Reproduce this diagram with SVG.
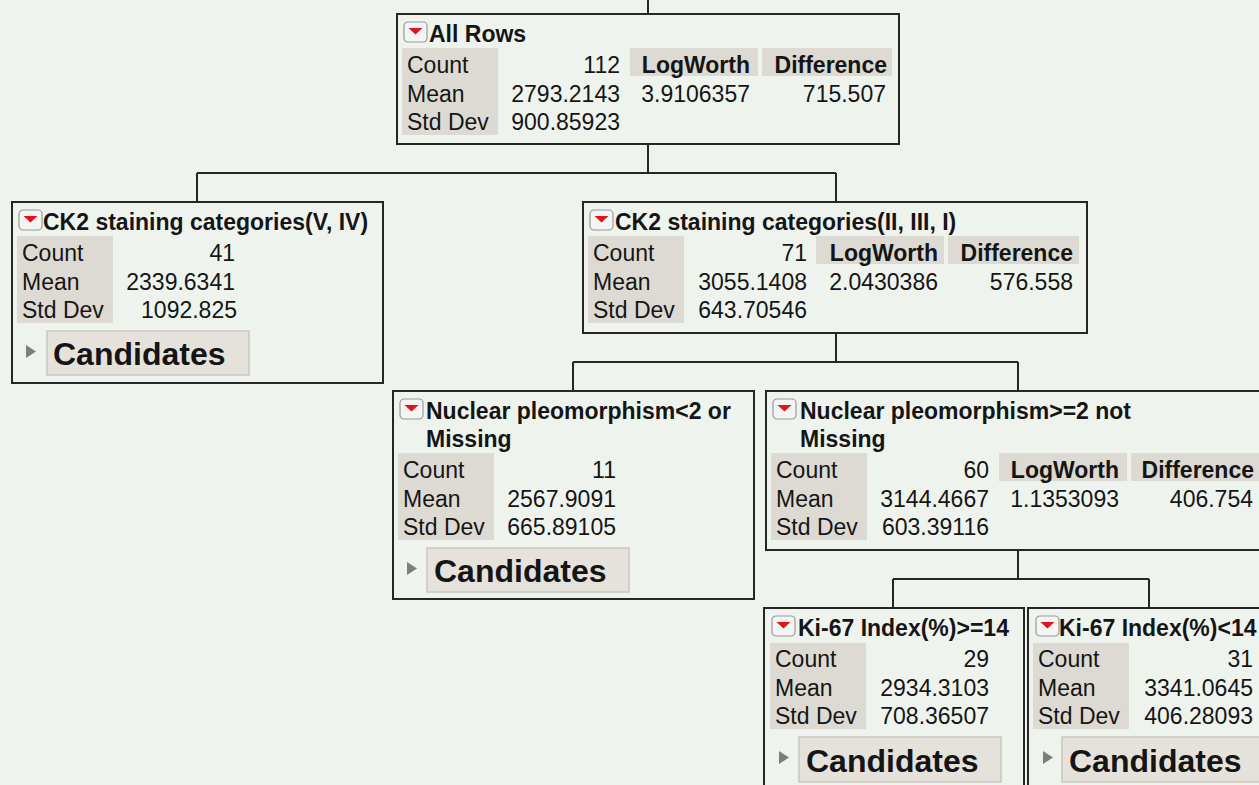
<svg xmlns="http://www.w3.org/2000/svg" xmlns:xlink="http://www.w3.org/1999/xlink" width="1259" height="785" viewBox="0 0 1259 785">
<style>
.box{fill:#eff3ee;stroke:#262626;stroke-width:2}
.lbl{fill:#dddad3}
.t{font-family:"Liberation Sans",Arial,Helvetica,sans-serif;font-size:23px;fill:#151515}
.b{font-weight:bold}
.r{text-anchor:end}
.btn{fill:#e5e2dc;stroke:#cac6bf;stroke-width:1.5}
.cand{font-size:32px;font-weight:bold}
.disc{fill:#7d7d7d}
.conn path{stroke:#262626;stroke-width:2;fill:none}
</style>
<defs>
<g id="menu">
<rect x="0" y="0" width="23" height="20" rx="4" fill="#f4f4f2" stroke="#9a9a9a" stroke-width="1.2"/>
<polygon points="4.5,6 18.5,6 11.5,12.5" fill="#e0141c"/>
</g>
</defs>
<rect x="0" y="0" width="1259" height="785" fill="#eff3ee"/>
<g class="conn" id="connectors">
<path d="M648,0 V14"/>
<path d="M648,144 V173 M197,173 H836 M197,173 V202 M836,173 V202"/>
<path d="M836,333 V362 M573,362 H1018 M573,362 V391 M1018,362 V391"/>
<path d="M1018,550 V579 M893,579 H1149 M893,579 V608 M1149,579 V608"/>
</g>
<g id="node-all-rows" transform="translate(397,14)">
<rect class="box" x="0" y="0" width="502" height="130"/>
<use href="#menu" x="7" y="8"/>
<text class="t b" x="32" y="28">All Rows</text>
<rect class="lbl" x="5" y="34" width="96" height="87"/>
<rect class="lbl" x="233" y="34" width="128" height="28"/>
<rect class="lbl" x="365" y="34" width="130" height="28"/>
<text class="t" x="10" y="59">Count</text>
<text class="t" x="10" y="88">Mean</text>
<text class="t" x="10" y="116">Std Dev</text>
<text class="t r" x="223" y="59">112</text>
<text class="t r" x="223" y="88">2793.2143</text>
<text class="t r" x="223" y="116">900.85923</text>
<text class="t b r" x="353" y="59">LogWorth</text>
<text class="t b r" x="490" y="59">Difference</text>
<text class="t r" x="353" y="88">3.9106357</text>
<text class="t r" x="489" y="88">715.507</text>
</g>
<g id="node-ck2-v-iv" transform="translate(12,202)">
<rect class="box" x="0" y="0" width="371" height="181"/>
<use href="#menu" x="7" y="8"/>
<text class="t b" x="31" y="28">CK2 staining categories(V, IV)</text>
<rect class="lbl" x="5" y="34" width="96" height="87"/>
<text class="t" x="10" y="59">Count</text>
<text class="t" x="10" y="88">Mean</text>
<text class="t" x="10" y="116">Std Dev</text>
<text class="t r" x="223" y="59">41</text>
<text class="t r" x="223" y="88">2339.6341</text>
<text class="t r" x="225" y="116">1092.825</text>
<polygon class="disc" points="14,143 14,156 24,149.5"/>
<rect class="btn" x="35" y="129" width="202" height="44"/>
<text class="t cand" x="41" y="163">Candidates</text>
</g>
<g id="node-ck2-ii-iii-i" transform="translate(583,202)">
<rect class="box" x="0" y="0" width="504" height="131"/>
<use href="#menu" x="7" y="8"/>
<text class="t b" x="32" y="28">CK2 staining categories(II, III, I)</text>
<rect class="lbl" x="5" y="34" width="96" height="87"/>
<rect class="lbl" x="233" y="34" width="128" height="28"/>
<rect class="lbl" x="365" y="34" width="131" height="28"/>
<text class="t" x="10" y="59">Count</text>
<text class="t" x="10" y="88">Mean</text>
<text class="t" x="10" y="116">Std Dev</text>
<text class="t r" x="224" y="59">71</text>
<text class="t r" x="224" y="88">3055.1408</text>
<text class="t r" x="224" y="116">643.70546</text>
<text class="t b r" x="355" y="59">LogWorth</text>
<text class="t b r" x="490" y="59">Difference</text>
<text class="t r" x="355" y="88">2.0430386</text>
<text class="t r" x="490" y="88">576.558</text>
</g>
<g id="node-nuclear-lt2" transform="translate(393,391)">
<rect class="box" x="0" y="0" width="361" height="208"/>
<use href="#menu" x="7" y="8"/>
<text class="t b" x="33" y="28">Nuclear pleomorphism&lt;2 or</text>
<text class="t b" x="33" y="56">Missing</text>
<rect class="lbl" x="5" y="62" width="96" height="87"/>
<text class="t" x="10" y="87">Count</text>
<text class="t" x="10" y="116">Mean</text>
<text class="t" x="10" y="144">Std Dev</text>
<text class="t r" x="223" y="87">11</text>
<text class="t r" x="223" y="116">2567.9091</text>
<text class="t r" x="223" y="144">665.89105</text>
<polygon class="disc" points="14,171 14,184 24,177.5"/>
<rect class="btn" x="34" y="157" width="202" height="44"/>
<text class="t cand" x="41" y="191">Candidates</text>
</g>
<g id="node-nuclear-ge2" transform="translate(766,391)">
<rect class="box" x="0" y="0" width="520" height="159"/>
<use href="#menu" x="7" y="8"/>
<text class="t b" x="34" y="28">Nuclear pleomorphism&gt;=2 not</text>
<text class="t b" x="34" y="56">Missing</text>
<rect class="lbl" x="5" y="62" width="96" height="87"/>
<rect class="lbl" x="233" y="62" width="128" height="28"/>
<rect class="lbl" x="365" y="62" width="131" height="28"/>
<text class="t" x="10" y="87">Count</text>
<text class="t" x="10" y="116">Mean</text>
<text class="t" x="10" y="144">Std Dev</text>
<text class="t r" x="223" y="87">60</text>
<text class="t r" x="223" y="116">3144.4667</text>
<text class="t r" x="223" y="144">603.39116</text>
<text class="t b r" x="353" y="87">LogWorth</text>
<text class="t b r" x="488" y="87">Difference</text>
<text class="t r" x="353" y="116">1.1353093</text>
<text class="t r" x="487" y="116">406.754</text>
</g>
<g id="node-ki67-ge14" transform="translate(764,608)">
<rect class="box" x="0" y="0" width="260" height="200"/>
<use href="#menu" x="8" y="8"/>
<text class="t b" x="34" y="28">Ki-67 Index(%)&gt;=14</text>
<rect class="lbl" x="6" y="35" width="96" height="86"/>
<text class="t" x="11" y="59">Count</text>
<text class="t" x="11" y="88">Mean</text>
<text class="t" x="11" y="116">Std Dev</text>
<text class="t r" x="225" y="59">29</text>
<text class="t r" x="225" y="88">2934.3103</text>
<text class="t r" x="225" y="116">708.36507</text>
<polygon class="disc" points="15,143 15,156 25,149.5"/>
<rect class="btn" x="35" y="129" width="202" height="45"/>
<text class="t cand" x="42" y="164">Candidates</text>
</g>
<g id="node-ki67-lt14" transform="translate(1028,608)">
<rect class="box" x="0" y="0" width="300" height="200"/>
<use href="#menu" x="8" y="8"/>
<text class="t b" x="31" y="28">Ki-67 Index(%)&lt;14</text>
<rect class="lbl" x="5" y="35" width="96" height="86"/>
<text class="t" x="10" y="59">Count</text>
<text class="t" x="10" y="88">Mean</text>
<text class="t" x="10" y="116">Std Dev</text>
<text class="t r" x="225" y="59">31</text>
<text class="t r" x="225" y="88">3341.0645</text>
<text class="t r" x="225" y="116">406.28093</text>
<polygon class="disc" points="15,143 15,156 25,149.5"/>
<rect class="btn" x="34" y="129" width="202" height="45"/>
<text class="t cand" x="41" y="164">Candidates</text>
</g>
</svg>
